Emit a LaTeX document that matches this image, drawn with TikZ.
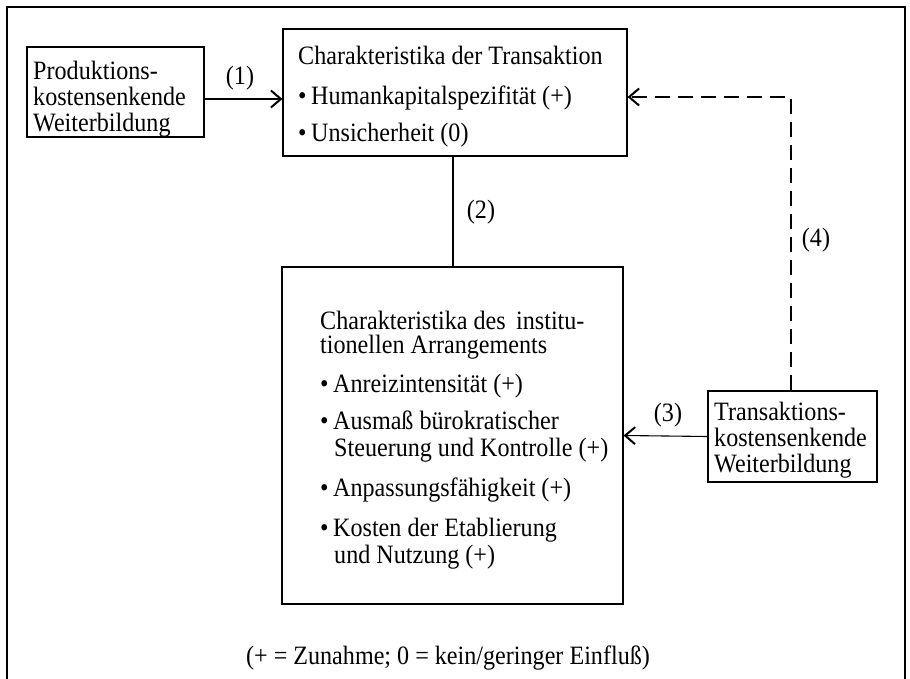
\documentclass[tikz,border=0pt]{standalone}
\usepackage{fontspec}
\setmainfont[FakeStretch=0.91]{Liberation Serif}
\usetikzlibrary{arrows.meta}
\newcommand\bul{\makebox[13pt][l]{\textbullet}}
\newcommand\ind{\hspace*{14pt}}
\begin{document}
\begin{tikzpicture}[x=1pt,y=-1pt,
  every node/.style={font=\fontsize{26.5}{26}\selectfont},
  box/.style={draw,line width=1.1pt,rectangle,inner sep=0pt},
  txt/.style={align=left,inner sep=0pt,anchor=north west},
  lbl/.style={inner sep=0pt},
  tip/.tip={Straight Barb[length=10pt,width=17pt,line width=2pt]},
  arr/.style={line width=1.1pt,-tip},
  dsh/.style={line width=1.1pt,dash pattern=on 15pt off 8pt}]
\useasboundingbox (0,0) rectangle (910,679);
% outer frame
\draw[line width=1.1pt] (7,679) -- (7,7) -- (905,7) -- (905,679);
% boxes
\node[box,minimum width=177pt,minimum height=90pt] (lbox) at (115.5,92) {};
\node[box,minimum width=344pt,minimum height=127pt] (tbox) at (455,92.5) {};
\node[box,minimum width=341pt,minimum height=337pt] (bbox) at (452.5,435.5) {};
\node[box,minimum width=169pt,minimum height=91pt] (rbox) at (792.5,436.5) {};
% texts
\node[txt] (ltxt) at (33,61) {Produktions-\\kostensenkende\\Weiterbildung};
\node[txt] (ttxt) at (298,46) {Charakteristika der Transaktion\\[14pt]
  \bul Humankapitalspezifität (+)\\[11pt]
  \bul Unsicherheit (0)};
\node[txt] (btxt) at (320,311) {Charakteristika des\, institu-\\[-2pt]
  tionellen Arrangements\\[13pt]
  \bul Anreizintensität (+)\\[11pt]
  \bul Ausmaß bürokratischer\\[1pt]
  \ind Steuerung und Kontrolle (+)\\[14pt]
  \bul Anpassungsfähigkeit (+)\\[14pt]
  \bul Kosten der Etablierung\\[1pt]
  \ind und Nutzung (+)};
\node[txt] (rtxt) at (714,402) {Transaktions-\\kostensenkende\\Weiterbildung};
% connectors
\draw[arr] ([yshift=-7pt]lbox.east) -- ([yshift=-6.5pt]tbox.west);
\draw[line width=1.1pt] ([xshift=-2pt]tbox.south) -- ([xshift=-2pt]tbox.south |- bbox.north);
\draw[arr] (rbox.west) -- (bbox.east);
\draw[dsh,-tip] ([xshift=-1.5pt]rbox.north) |- ([yshift=-4.5pt]tbox.east);
% labels
\node[lbl] (l1) at (240,78) {(1)};
\node[lbl] (l2) at (481,212) {(2)};
\node[lbl] (l3) at (668,415) {(3)};
\node[lbl] (l4) at (816,240) {(4)};
\node[lbl] (foot) at (448,658) {(+ = Zunahme; 0 = kein/geringer Einfluß)};
\end{tikzpicture}
\end{document}
